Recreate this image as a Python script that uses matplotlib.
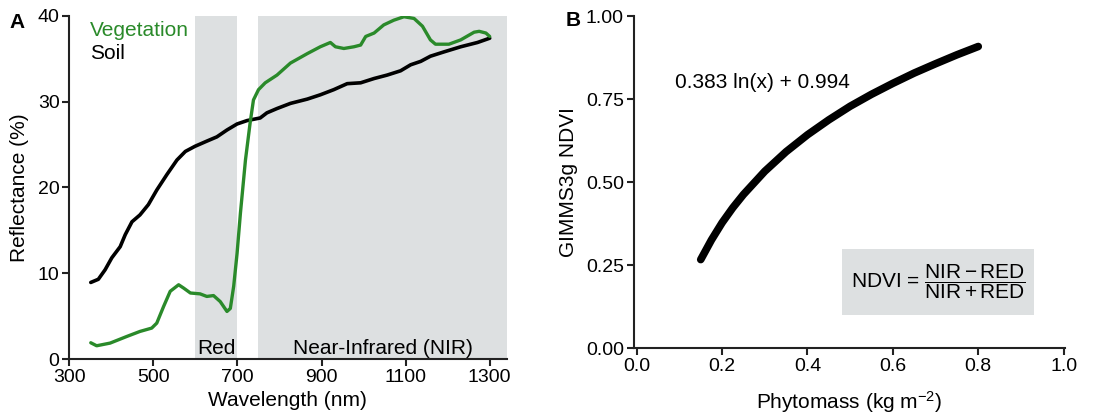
import numpy as np
import matplotlib
matplotlib.use('Agg')
import matplotlib.pyplot as plt
from matplotlib.patches import Rectangle

plt.rcParams['font.family'] = ['Liberation Sans', 'DejaVu Sans']
plt.rcParams['mathtext.fontset'] = 'custom'
plt.rcParams['mathtext.rm'] = 'Liberation Sans'
plt.rcParams['mathtext.it'] = 'Liberation Sans:italic'

# Panel A: reflectance spectra
veg_nm = [351, 365, 397, 437, 468, 496, 508, 524, 540, 560, 572, 588, 611, 627, 643,
          659, 675, 683, 691, 699, 707, 719, 730, 738, 750, 766, 794, 826, 866, 897,
          921, 933, 953, 977, 993, 1005, 1025, 1048, 1072, 1096, 1120, 1140, 1159,
          1171, 1203, 1231, 1263, 1275, 1291, 1300]
veg_refl = [1.9, 1.55, 1.86, 2.64, 3.22, 3.61, 4.19, 6.1, 7.9, 8.66, 8.27, 7.7, 7.6,
            7.3, 7.4, 6.7, 5.55, 5.9, 8.5, 12.3, 17.0, 23.2, 27.5, 30.2, 31.4, 32.2,
            33.1, 34.5, 35.6, 36.4, 36.9, 36.4, 36.2, 36.4, 36.6, 37.6, 38.0, 38.95,
            39.5, 39.9, 39.7, 38.8, 37.2, 36.7, 36.7, 37.2, 38.1, 38.2, 38.0, 37.6]

soil_nm = [351, 369, 385, 401, 421, 433, 449, 468, 488, 508, 532, 556, 576, 599, 627,
           651, 675, 699, 723, 754, 770, 794, 826, 866, 897, 929, 961, 993, 1025, 1056,
           1088, 1112, 1136, 1159, 1191, 1231, 1271, 1300]
soil_refl = [8.93, 9.3, 10.4, 11.8, 13.1, 14.5, 16.0, 16.8, 18.0, 19.7, 21.5, 23.2,
             24.2, 24.8, 25.4, 25.9, 26.7, 27.4, 27.8, 28.1, 28.7, 29.2, 29.8, 30.3,
             30.8, 31.4, 32.1, 32.2, 32.7, 33.1, 33.6, 34.3, 34.7, 35.3, 35.8, 36.4,
             36.9, 37.4]

red_band = (600, 700)
nir_band = (750, 1340)

# Panel B: NDVI vs phytomass curve
phyto = [0.15, 0.175, 0.2, 0.225, 0.25, 0.3, 0.35, 0.4, 0.45, 0.5, 0.55, 0.6, 0.65,
         0.7, 0.75, 0.8]
ndvi = [0.267, 0.326, 0.378, 0.423, 0.463, 0.533, 0.592, 0.643, 0.688, 0.729, 0.765,
        0.798, 0.829, 0.857, 0.884, 0.909]

green = '#2a8a2a'
shade = '#dde0e1'
fs = 14

fig = plt.figure(figsize=(11.04, 4.18), dpi=100)
axA = fig.add_axes([0.0628, 0.141, 0.396, 0.821])
axB = fig.add_axes([0.574, 0.167, 0.391, 0.794])

for ax in (axA, axB):
    for s in ('top', 'right'):
        ax.spines[s].set_visible(False)
    for s in ('left', 'bottom'):
        ax.spines[s].set_linewidth(1.5)
        ax.spines[s].set_color('#222222')
    ax.tick_params(direction='out', length=5, width=1.5, labelsize=fs, color='#222222', pad=2)

# ---- Panel A ----
axA.axvspan(*red_band, color=shade, lw=0, zorder=0)
axA.axvspan(*nir_band, color=shade, lw=0, zorder=0)
axA.plot(soil_nm, soil_refl, color='black', lw=2.6, solid_capstyle='round', zorder=3)
axA.plot(veg_nm, veg_refl, color=green, lw=2.4, solid_capstyle='round', zorder=3)
axA.set_xlim(300, 1340)
axA.set_ylim(0, 40)
axA.set_xticks([300, 500, 700, 900, 1100, 1300])
axA.set_yticks([0, 10, 20, 30, 40])
axA.set_xlabel('Wavelength (nm)', fontsize=fs + 1, labelpad=4)
axA.set_ylabel('Reflectance (%)', fontsize=fs + 1, labelpad=6)
axA.text(350, 38.3, 'Vegetation', color=green, fontsize=fs + 1, va='center')
axA.text(350, 35.6, 'Soil', color='black', fontsize=fs + 1, va='center')
axA.text(650, 1.2, 'Red', fontsize=fs + 1, ha='center', va='center')
axA.text(1045, 1.2, 'Near-Infrared (NIR)', fontsize=fs + 1, ha='center', va='center')
fig.text(0.009, 0.945, 'A', fontsize=fs + 1, fontweight='bold', va='center')

# ---- Panel B ----
axB.plot(phyto, ndvi, color='black', lw=5.5, solid_capstyle='round')
axB.set_xlim(-0.007, 1.004)
axB.set_ylim(0, 1.0)
axB.set_xticks([0.0, 0.2, 0.4, 0.6, 0.8, 1.0])
axB.set_xticklabels(['0.0', '0.2', '0.4', '0.6', '0.8', '1.0'])
axB.set_yticks([0, 0.25, 0.5, 0.75, 1.0])
axB.set_yticklabels(['0.00', '0.25', '0.50', '0.75', '1.00'])
axB.set_xlabel('Phytomass (kg m$^{-2}$)', fontsize=fs + 1, labelpad=10)
axB.set_ylabel('GIMMS3g NDVI', fontsize=fs + 1, labelpad=6)
axB.text(0.09, 0.80, '0.383 ln(x) + 0.994', fontsize=fs + 1, va='center')
axB.add_patch(Rectangle((0.482, 0.10), 0.448, 0.20, color=shade, lw=0))
axB.text(0.706, 0.20, r'NDVI = $\dfrac{\mathrm{NIR - RED}}{\mathrm{NIR + RED}}$',
         fontsize=fs + 1, ha='center', va='center')
fig.text(0.512, 0.95, 'B', fontsize=fs + 1, fontweight='bold', va='center')

fig.savefig('out.png', dpi=100)
